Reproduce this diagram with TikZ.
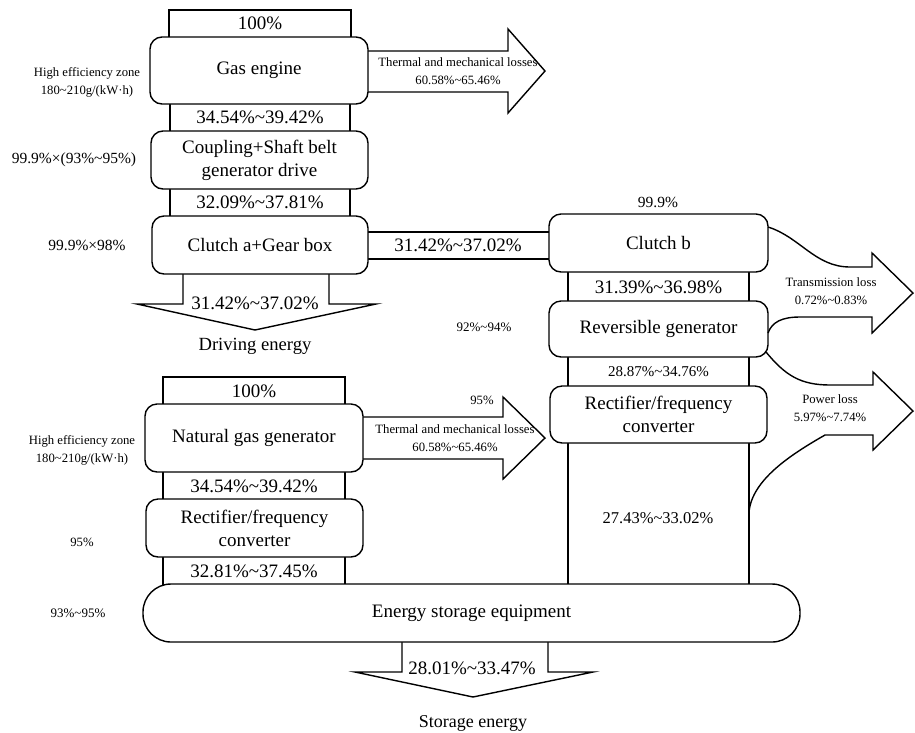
\documentclass[tikz,border=0pt]{standalone}
\usepackage{fontspec}
\setmainfont{Liberation Serif}
\newcommand\Tld{\textasciitilde}
\begin{document}
\begin{tikzpicture}[x=1pt,y=-1pt,line width=1.4pt,line join=miter,
  box/.style={draw,fill=white,rounded corners=12pt,inner sep=0pt,align=center,
    font=\fontsize{19}{23}\selectfont},
  big/.style={inner sep=0pt,align=center,font=\fontsize{19}{23}\selectfont},
  mid/.style={inner sep=0pt,align=center,font=\fontsize{15.5}{18}\selectfont},
  small/.style={inner sep=0pt,align=center,font=\fontsize{12.7}{18}\selectfont}]
\useasboundingbox (0,0) rectangle (915,732);

% ---- flow bands (drawn first, the boxes cover their ends) ----
\draw (169,10) rectangle (351,70.5);
\draw (170,70.5) rectangle (350,160);
\draw (170,160) rectangle (350,245);
\draw (260,232) rectangle (658,259);
\draw (568,243) rectangle (749,329);
\draw (568,329) rectangle (749,414);
\draw (568,414) rectangle (749,613);
\draw (163,377) rectangle (345,438);
\draw (163,438) rectangle (345,528);
\draw (163,528) rectangle (345,613);
% driving energy outlet
\draw (183,245) -- (183,304) -- (137,304) -- (255,330) -- (376,304) -- (329,304) -- (329,245);
% storage energy outlet
\draw (402,613) -- (402,672) -- (355,672) -- (473,697) -- (593,672) -- (548,672) -- (548,613);
% thermal and mechanical losses
\draw (300,51) -- (508,51) -- (508,29) -- (545,71) -- (508,113) -- (508,92) -- (300,92);
\draw (300,417) -- (503,417) -- (503,397) -- (545,438) -- (503,479) -- (503,459) -- (300,459);

% ---- process boxes ----
\node[box,minimum width=218pt,minimum height=67pt] (gas) at (259,70.5) {Gas engine};
\node[box,minimum width=217pt,minimum height=58pt] (coup) at (259.5,160) {Coupling+Shaft belt\\generator drive};
\node[box,minimum width=216pt,minimum height=58pt] (clA) at (260,245) {Clutch a+Gear box};
\node[box,minimum width=219pt,minimum height=58pt] (clB) at (658.5,243) {Clutch b};
\node[box,minimum width=219pt,minimum height=56pt] (rev) at (658.5,329) {Reversible generator};
\node[box,minimum width=217pt,minimum height=57pt] (rfR) at (658.5,414.5) {Rectifier/frequency\\converter};
\node[box,minimum width=218pt,minimum height=68pt] (ngg) at (254,438) {Natural gas generator};
\node[box,minimum width=217pt,minimum height=58pt] (rfL) at (254.5,528) {Rectifier/frequency\\converter};
\node[box,rounded corners=28pt,minimum width=657pt,minimum height=58pt] (store) at (471.5,613) {Energy storage equipment};

% transmission loss
\draw (768,227) .. controls (800,237) and (815,267) .. (850,267) -- (872,267) -- (872,253)
  -- (913,293) -- (872,333) -- (872,317) -- (800,317) .. controls (782,317) and (772,322) .. (768,333);
% power loss
\draw (766,352) .. controls (785,375) and (800,385) .. (830,385) -- (873,385) -- (873,372)
  -- (913,411) -- (873,450) -- (873,435) -- (825,435) .. controls (790,455) and (752,480) .. (749,512);

% ---- flow values ----
\node[big] (v1) at (260,23.5) {100\%};
\node[big] (v2) at (260,117.5) {34.54\%\Tld39.42\%};
\node[big] (v3) at (260,202.5) {32.09\%\Tld37.81\%};
\node[big] (v4) at (458,245.5) {31.42\%\Tld37.02\%};
\node[big] (v5) at (255,303) {31.42\%\Tld37.02\%};
\node[big] (v6) at (658.5,287) {31.39\%\Tld36.98\%};
\node[mid,font=\fontsize{15}{18}\selectfont] (v7) at (658.5,372) {28.87\%\Tld34.76\%};
\node[mid,font=\fontsize{16.5}{18}\selectfont] (v8) at (658,518) {27.43\%\Tld33.02\%};
\node[big] (v9) at (254,391) {100\%};
\node[big] (v10) at (254,486) {34.54\%\Tld39.42\%};
\node[big] (v11) at (254,571) {32.81\%\Tld37.45\%};
\node[big] (v12) at (472,668) {28.01\%\Tld33.47\%};

% ---- outputs ----
\node[big,font=\fontsize{18.6}{22}\selectfont] (drv) at (255,346) {Driving energy};
\node[big,font=\fontsize{18}{22}\selectfont] (sto) at (473,723) {Storage energy};

% ---- loss labels ----
\node[small] (th1) at (458,71) {Thermal and mechanical losses\\60.58\%\Tld65.46\%};
\node[small] (th2) at (455,438.5) {Thermal and mechanical losses\\60.58\%\Tld65.46\%};
\node[small] (tr) at (831,291) {Transmission loss\\0.72\%\Tld0.83\%};
\node[small] (pw) at (830,408.5) {Power loss\\5.97\%\Tld7.74\%};

% ---- efficiencies ----
\node[small] (e1) at (87,82.5) {High efficiency zone\\180\Tld210g/(kW·h)};
\node[mid] (e2) at (74,160) {99.9\%×(93\%\Tld95\%)};
\node[mid] (e3) at (87,245) {99.9\%×98\%};
\node[mid] (e4) at (658,202) {99.9\%};
\node[small,font=\fontsize{13}{18}\selectfont] (e5) at (484,327) {92\%\Tld94\%};
\node[small] (e6) at (482,400) {95\%};
\node[small] (e7) at (82,450) {High efficiency zone\\180\Tld210g/(kW·h)};
\node[small] (e8) at (82,542) {95\%};
\node[small,font=\fontsize{13}{18}\selectfont] (e9) at (78,613) {93\%\Tld95\%};
\end{tikzpicture}
\end{document}
